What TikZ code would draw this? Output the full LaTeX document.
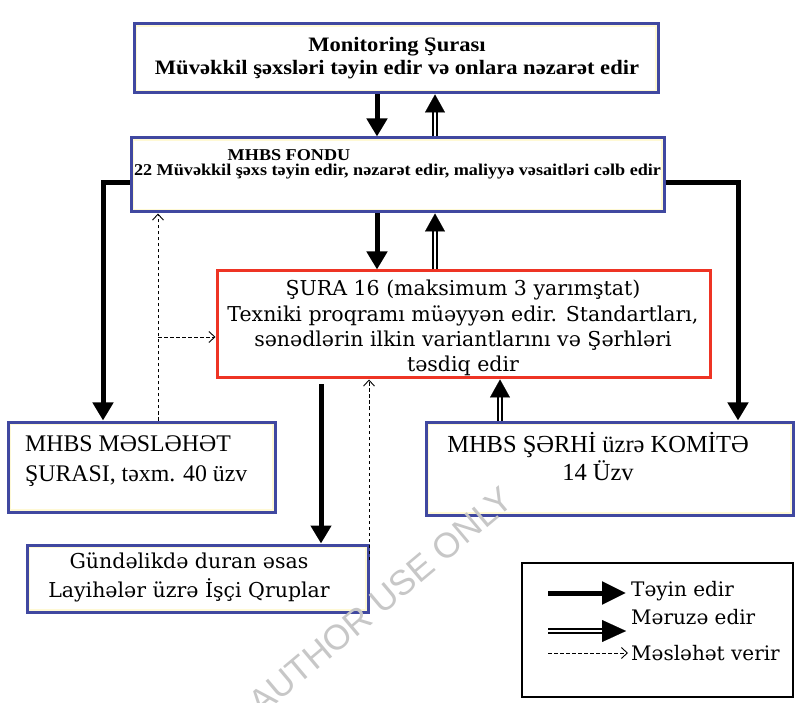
\documentclass[tikz,border=0pt]{standalone}
\usepackage{fontspec}
\setmainfont{Liberation Serif}
\newfontfamily\wide[FakeStretch=1.1]{Liberation Serif}
\newfontfamily\cam{DejaVu Serif}
\newfontfamily\wmfont{Liberation Sans}
\usetikzlibrary{arrows.meta,calc}
\definecolor{boxblue}{RGB}{64,72,160}
\definecolor{boxred}{RGB}{238,52,36}
\definecolor{cream}{RGB}{255,249,212}
\begin{document}
\begin{tikzpicture}[x=1pt,y=-1pt,
  bluebox/.style={draw=boxblue, line width=3pt, fill=white, inner sep=0pt,
    path picture={\draw[cream,line width=6pt] (path picture bounding box.south west) rectangle (path picture bounding box.north east);}},
  redbox/.style={draw=boxred, line width=3pt, fill=white, inner sep=0pt},
  legbox/.style={draw=black, line width=1.2pt, fill=white, inner sep=0pt},
  txt/.style={inner sep=0pt, align=center, text=black},
  montext/.style={txt, font=\wide\bfseries\fontsize{20.5}{23}\selectfont},
  fondutext/.style={txt, font=\wide\bfseries\fontsize{16.5}{18}\selectfont},
  suratext/.style={txt, font=\cam\fontsize{20.5}{25.3}\selectfont},
  meslText/.style={txt, align=left, anchor=west, font=\fontsize{23.8}{30}\selectfont},
  komText/.style={txt, font=\fontsize{24.5}{28}\selectfont},
  gundText/.style={txt, font=\cam\fontsize{20.5}{29}\selectfont},
  legText/.style={txt, anchor=west, font=\cam\fontsize{20}{22}\selectfont},
  appoint/.style={line width=5pt, -{Triangle[width=20pt,length=18pt]}},
  reportline/.style={double, draw=black, double=white, line width=1.4pt, double distance=2.5pt, shorten >=16pt},
  reporttip/.style={draw=white, line width=0.1pt, -{Triangle[width=20pt,length=18pt,color=black]}},
  advise/.style={line width=0.9pt, dash pattern=on 3.5pt off 2.5pt, -{Straight Barb[length=6pt,width=11pt,line width=0.9pt]}},
  wm/.style={inner sep=0pt, text=black!22, font=\wmfont\fontsize{35}{35}\selectfont, rotate=40}
]
\fill[white] (0,0) rectangle (801,703);
\useasboundingbox (0,0) rectangle (801,703);

% boxes
\node[bluebox, minimum width=524pt, minimum height=69pt] (mon) at (396,58.5) {};
\node[bluebox, minimum width=533pt, minimum height=74pt] (fondu) at (397.5,175) {};
\node[redbox, minimum width=493pt, minimum height=107pt] (sura) at (463.5,324.5) {};
\node[bluebox, minimum width=267pt, minimum height=90pt] (mesl) at (141.5,467) {};
\node[bluebox, minimum width=367pt, minimum height=93pt] (kom) at (609.5,468.5) {};
\node[bluebox, minimum width=341pt, minimum height=67pt] (gund) at (197.5,578.5) {};
\node[legbox, minimum width=271pt, minimum height=134pt] (leg) at (657.5,630) {};

% texts
\node[montext] (monT) at (397,58.5) {Monitoring Şurası\\Müvəkkil şəxsləri təyin edir və onlara nəzarət edir};
\node[fondutext] (fonduA) at (289,155) {MHBS FONDU};
\node[fondutext] (fonduB) at (397.5,172) {22 Müvəkkil şəxs təyin edir, nəzarət edir, maliyyə vəsaitləri cəlb edir};
\node[suratext] (suraT) at (463,328) {ŞURA 16 (maksimum 3 yarımştat)\\Texniki proqramı müəyyən edir. Standartları,\\sənədlərin ilkin variantlarını və Şərhləri\\təsdiq edir};
\node[meslText] (meslT) at (25,461) {MHBS MƏSLƏHƏT\\ŞURASI, təxm. 40 üzv};
\node[komText] (komT) at (598,457) {MHBS ŞƏRHİ üzrə KOMİTƏ\\14 Üzv};
\node[gundText] (gundT) at (189,577.5) {Gündəlikdə duran əsas\\Layihələr üzrə İşçi Qruplar};
\node[legText] (leg1) at (631,591) {Təyin edir};
\node[legText] (leg2) at (631,617) {Məruzə edir};
\node[legText] (leg3) at (631,653) {Məsləhət verir};

% helper coordinates
\coordinate (xa) at (377,0);
\coordinate (xb) at (435,0);
\coordinate (lx) at (103,183);
\coordinate (rx) at (738,183);
\coordinate (xd) at (158,337);
\coordinate (xg) at (321,0);
\coordinate (xh) at (369,560);
\coordinate (xk) at (500,0);

% Monitoring <-> Fondu
\draw[appoint] (mon.south -| xa) -- (fondu.north -| xa);
\draw[reportline] (fondu.north -| xb) -- (mon.south -| xb);
\draw[reporttip] (fondu.north -| xb) -- (mon.south -| xb);

% Fondu <-> Sura
\draw[appoint] (fondu.south -| xa) -- (sura.north -| xa);
\draw[reportline] (sura.north -| xb) -- (fondu.south -| xb);
\draw[reporttip] (sura.north -| xb) -- (fondu.south -| xb);

% Fondu -> side boxes
\draw[appoint] (fondu.west |- lx) -- (lx) -- (lx |- mesl.north);
\draw[appoint] (fondu.east |- rx) -- (rx) -- (rx |- kom.north);

% Sura -> Gundelik
\draw[appoint, shorten <=5pt] (sura.south -| xg) -- (gund.north -| xg);

% Komite -> Sura
\draw[reportline] (kom.north -| xk) -- (sura.south -| xk);
\draw[reporttip] (kom.north -| xk) -- (sura.south -| xk);

% advisory
\draw[advise] (mesl.north -| xd) -- (fondu.south -| xd);
\draw[advise] (xd) -- (sura.west |- xd);
\draw[advise] (xh) -- (sura.south -| xh);

% legend arrows
\coordinate (l1a) at (548,593); \coordinate (l1b) at (626,593);
\coordinate (l2a) at (548,631); \coordinate (l2b) at (626,631);
\coordinate (l3a) at (548,653); \coordinate (l3b) at (628,653);
\draw[appoint, -{Triangle[width=22pt,length=24pt]}] (l1a) -- (l1b);
\draw[reportline, shorten >=22pt] (l2a) -- (l2b);
\draw[reporttip, -{Triangle[width=22pt,length=24pt,color=black]}] (l2a) -- (l2b);
\draw[advise] (l3a) -- (l3b);

% watermark (on top)
\node[wm] (wmark) at (381,601) {AUTHOR USE ONLY};
\end{tikzpicture}
\end{document}
